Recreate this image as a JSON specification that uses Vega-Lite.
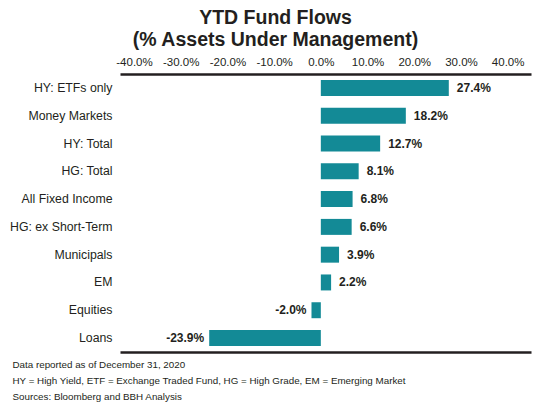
{
  "$schema": "https://vega.github.io/schema/vega-lite/v6.json",
  "autosize": {"type": "none"},
  "width": 411,
  "height": 278,
  "padding": {"left": 120, "top": 74, "right": 14, "bottom": 54},
  "background": "white",
  "title": {
    "text": ["YTD Fund Flows", "(% Assets Under Management)"],
    "font": "Liberation Sans",
    "fontSize": 19.5,
    "fontWeight": "bold",
    "color": "#231f20",
    "lineHeight": 21.5,
    "anchor": "middle",
    "dx": -50,
    "offset": 6
  },
  "data": {
    "values": [
      {"category": "HY: ETFs only", "flow": 27.4, "label": "27.4%"},
      {"category": "Money Markets", "flow": 18.2, "label": "18.2%"},
      {"category": "HY: Total", "flow": 12.7, "label": "12.7%"},
      {"category": "HG: Total", "flow": 8.1, "label": "8.1%"},
      {"category": "All Fixed Income", "flow": 6.8, "label": "6.8%"},
      {"category": "HG: ex Short-Term", "flow": 6.6, "label": "6.6%"},
      {"category": "Municipals", "flow": 3.9, "label": "3.9%"},
      {"category": "EM", "flow": 2.2, "label": "2.2%"},
      {"category": "Equities", "flow": -2.0, "label": "-2.0%"},
      {"category": "Loans", "flow": -23.9, "label": "-23.9%"}
    ]
  },
  "encoding": {
    "y": {
      "field": "category",
      "type": "nominal",
      "sort": null,
      "title": null,
      "scale": {"paddingInner": 0.425, "paddingOuter": 0.216},
      "axis": {
        "domain": false,
        "ticks": false,
        "labelPadding": 8,
        "labelFont": "Liberation Sans",
        "labelFontSize": 12.3,
        "labelColor": "#231f20"
      }
    }
  },
  "layer": [
    {
      "mark": {"type": "bar", "color": "#138a96"},
      "encoding": {
        "x": {
          "field": "flow",
          "type": "quantitative",
          "title": null,
          "scale": {"domain": [-43, 45], "nice": false, "zero": false},
          "axis": {
            "orient": "top",
            "values": [-40, -30, -20, -10, 0, 10, 20, 30, 40],
            "labelExpr": "replace(format(datum.value, '.1f'), '\u2212', '-') + '%'",
            "grid": false,
            "ticks": false,
            "domainColor": "#231f20",
            "domainWidth": 2.5,
            "labelPadding": 7,
            "labelFont": "Liberation Sans Narrow, Liberation Sans",
            "labelFontSize": 11.5,
            "labelColor": "#231f20"
          }
        }
      }
    },
    {
      "mark": {"type": "rule", "color": "#231f20", "strokeWidth": 2.5},
      "encoding": {
        "x": {
          "datum": 0,
          "type": "quantitative",
          "axis": {
            "orient": "bottom",
            "labels": false,
            "ticks": false,
            "grid": false,
            "domainColor": "#231f20",
            "domainWidth": 2.5,
            "title": [
              "Data reported as of December 31, 2020",
              "HY = High Yield, ETF = Exchange Traded Fund, HG = High Grade, EM = Emerging Market",
              "Sources: Bloomberg and BBH Analysis"
            ],
            "titleFont": "Liberation Sans",
            "titleFontSize": 9.8,
            "titleFontWeight": "normal",
            "titleColor": "#231f20",
            "titleAlign": "left",
            "titleBaseline": "top",
            "titleLineHeight": 16,
            "titleX": -108,
            "titleY": 7
          }
        }
      }
    },
    {
      "transform": [{"filter": "datum.flow >= 0"}],
      "mark": {
        "type": "text",
        "align": "left",
        "dx": 8,
        "font": "Liberation Sans",
        "fontSize": 12,
        "fontWeight": "bold",
        "color": "#231f20"
      },
      "encoding": {
        "x": {"field": "flow", "type": "quantitative", "axis": null},
        "text": {"field": "label", "type": "nominal"}
      }
    },
    {
      "transform": [{"filter": "datum.flow < 0"}],
      "mark": {
        "type": "text",
        "align": "right",
        "dx": -5,
        "font": "Liberation Sans",
        "fontSize": 12,
        "fontWeight": "bold",
        "color": "#231f20"
      },
      "encoding": {
        "x": {"field": "flow", "type": "quantitative", "axis": null},
        "text": {"field": "label", "type": "nominal"}
      }
    }
  ],
  "resolve": {"axis": {"x": "independent"}},
  "config": {"view": {"stroke": null}}
}
